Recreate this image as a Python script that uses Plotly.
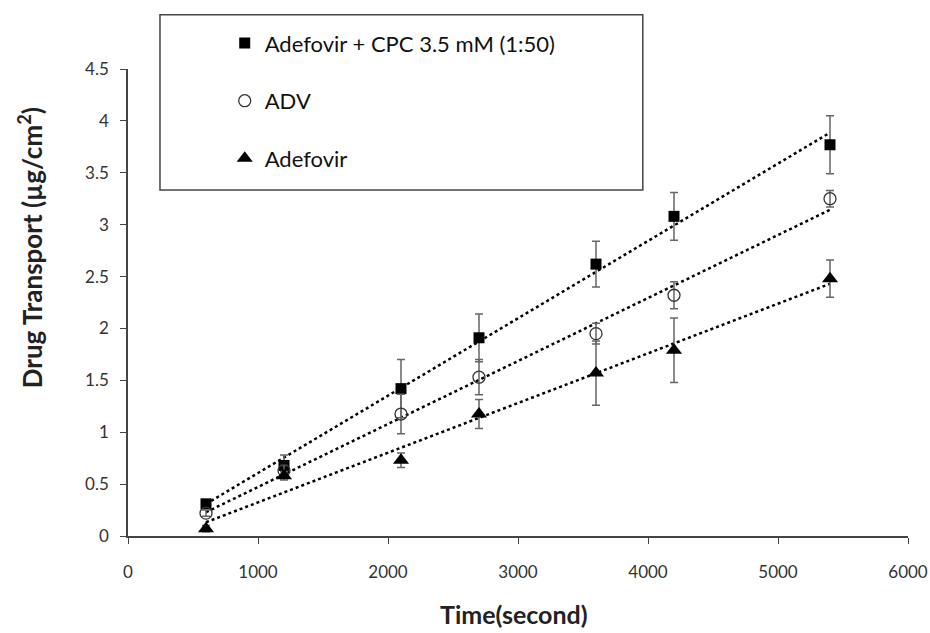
import numpy as np
import plotly.graph_objects as go

time_s = [600, 1200, 2100, 2700, 3600, 4200, 5400]

cpc_vals = [0.31, 0.68, 1.42, 1.91, 2.62, 3.08, 3.77]
cpc_err = [0.03, 0.10, 0.28, 0.23, 0.22, 0.23, 0.28]

adv_vals = [0.22, 0.63, 1.175, 1.53, 1.95, 2.32, 3.25]
adv_err = [0.03, 0.05, 0.19, 0.17, 0.10, 0.13, 0.08]

adf_vals = [0.07, 0.58, 0.73, 1.175, 1.57, 1.79, 2.48]
adf_err = [0.03, 0.04, 0.07, 0.14, 0.31, 0.31, 0.18]

names = ["Adefovir + CPC 3.5 mM (1:50)", "ADV", "Adefovir"]
x_ticks = [0, 1000, 2000, 3000, 4000, 5000, 6000]
y_ticks = [0, 0.5, 1, 1.5, 2, 2.5, 3, 3.5, 4, 4.5]
x_title = "<b>Time(second)</b>"
y_title = "<b>Drug Transport (µg/cm<sup>2</sup>)</b>"

FONT = "Lato"
series = [
    (names[0], cpc_vals, cpc_err, dict(symbol="square", size=11, color="black")),
    (names[1], adv_vals, adv_err, dict(symbol="circle-open", size=12, color="#333333", line=dict(width=1.3, color="#333333"))),
    (names[2], adf_vals, adf_err, dict(symbol="triangle-up", size=14, color="black")),
]

fig = go.Figure()
for i, (nm, vals, err, mk) in enumerate(series):
    slope, icpt = np.polyfit(time_s, vals, 1)
    xs = [min(time_s), max(time_s)]
    fig.add_trace(go.Scatter(x=xs, y=[slope * v + icpt for v in xs], mode="lines",
                             line=dict(color="black", width=2.5, dash="dot"),
                             showlegend=False, hoverinfo="skip"))
for i, (nm, vals, err, mk) in enumerate(series):
    fig.add_trace(go.Scatter(x=time_s, y=vals, mode="markers", name=nm, marker=mk,
                             legendgroup=str(i),
                             error_y=dict(type="data", array=err, visible=True,
                                          color="#666666", thickness=1.5, width=4)))

fig.update_layout(
    width=930, height=633,
    margin=dict(l=128, r=22, t=69, b=97, autoexpand=False),
    plot_bgcolor="white", paper_bgcolor="white",
    font=dict(family=FONT, color="#333333"),
    showlegend=True,
    legend=dict(x=0.124, y=1.10, xanchor="left", yanchor="top",
                font=dict(size=22, family=FONT, color="#111111"),
                bgcolor="rgba(0,0,0,0)", borderwidth=0, tracegroupgap=26,
                itemsizing="trace"),
    shapes=[dict(type="rect", xref="paper", yref="paper", x0=0.041, x1=0.660,
                 y0=0.741, y1=1.116, line=dict(color="#444444", width=1.5),
                 fillcolor="rgba(0,0,0,0)", layer="below")],
    annotations=[
        dict(text=x_title, xref="paper", yref="paper", x=0.495, y=-0.168,
             xanchor="center", yanchor="middle", showarrow=False,
             font=dict(size=25, family=FONT, color="#222222")),
        dict(text=y_title, xref="paper", yref="paper", x=-0.125, y=0.617,
             xanchor="center", yanchor="middle", showarrow=False, textangle=-90,
             font=dict(size=26, family=FONT, color="#222222")),
    ],
    xaxis=dict(range=[0, 6000], tickvals=x_ticks, ticktext=[str(v) for v in x_ticks],
               showgrid=False, zeroline=False, showline=True, linecolor="#444444",
               linewidth=1.5, ticks="outside", ticklen=6, tickcolor="#444444",
               automargin=False, ticklabelstandoff=14,
               tickfont=dict(size=17, family=FONT, color="#333333")),
    yaxis=dict(range=[0, 4.5], tickvals=y_ticks, ticktext=[f"{v:g}" for v in y_ticks],
               showgrid=False, zeroline=False, showline=True, linecolor="#444444",
               linewidth=1.5, ticks="outside", ticklen=6, tickcolor="#444444",
               automargin=False, ticklabelstandoff=8,
               tickfont=dict(size=17, family=FONT, color="#333333")),
)

fig.write_html("out.html")
